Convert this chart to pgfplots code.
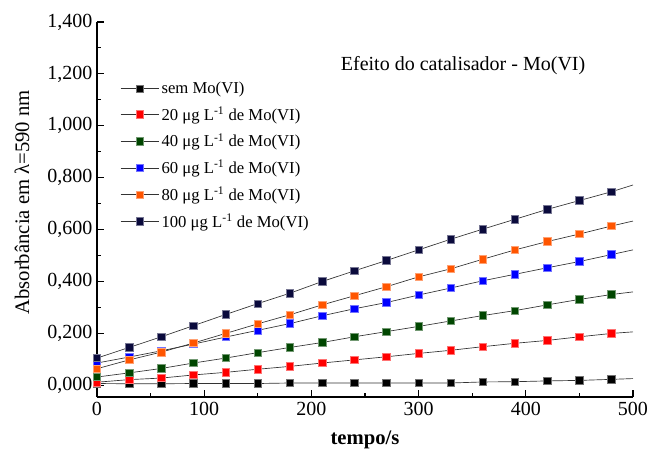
\documentclass[border=0pt]{standalone}
\usepackage{fontspec}
\setmainfont{Liberation Serif}
\usepackage{pgfplots}
\pgfplotsset{compat=1.18}
\usepackage{pgfplotstable}
\definecolor{cnavy}{RGB}{10,10,60}
\definecolor{corange}{RGB}{255,85,0}
\definecolor{cblue}{RGB}{0,0,255}
\definecolor{cgreen}{RGB}{0,70,0}
\definecolor{cred}{RGB}{255,0,0}
\definecolor{cblack}{RGB}{0,0,0}
\pgfplotstableread{
t   s0    s20   s40   s60   s80   s100
0   0.007 0.012 0.032 0.086 0.064 0.105
30  0.006 0.022 0.048 0.109 0.098 0.146
60  0.006 0.028 0.065 0.133 0.128 0.187
90  0.007 0.040 0.086 0.159 0.163 0.230
120 0.007 0.050 0.105 0.186 0.200 0.273
150 0.007 0.062 0.126 0.212 0.237 0.315
180 0.009 0.073 0.146 0.238 0.272 0.355
210 0.009 0.086 0.165 0.268 0.310 0.400
240 0.009 0.098 0.187 0.295 0.345 0.441
270 0.009 0.110 0.207 0.319 0.380 0.481
300 0.009 0.123 0.227 0.348 0.418 0.522
330 0.009 0.135 0.248 0.375 0.449 0.563
360 0.013 0.149 0.269 0.403 0.486 0.602
390 0.014 0.162 0.288 0.428 0.522 0.640
420 0.017 0.173 0.310 0.453 0.554 0.678
450 0.019 0.187 0.331 0.477 0.583 0.712
480 0.023 0.200 0.350 0.504 0.614 0.746
}\data
\pgfplotstableread{
t   s0    s20   s40   s60   s80   s100
480 0.023 0.200 0.350 0.504 0.614 0.746
500 0.026 0.206 0.360 0.522 0.633 0.772
}\ext
\pgfplotsset{
  ser/.style={black!80, line width=0.5pt, mark=square*, mark size=2.8pt,
    mark options={solid, fill=#1, draw=#1!55!white, line width=0.5pt}},
  extl/.style={black!80, line width=0.5pt, no marks, forget plot}
}
\begin{document}
\begin{tikzpicture}
\useasboundingbox (-72.75pt,-43.5pt) rectangle (414pt,297.75pt);
\begin{axis}[
  scale only axis, width=402pt, height=281.25pt,
  xmin=0, xmax=500, ymin=-0.045, ymax=1.4,
  axis x line*=bottom, axis y line*=left,
  axis line style={-, line width=0.8pt},
  tick style={line width=0.8pt, black},
  tick align=inside, major tick length=5pt, minor tick length=3pt,
  xtick={0,100,200,300,400,500}, minor x tick num=1,
  ytick={0,0.2,0.4,0.6,0.8,1.0,1.2,1.4}, minor y tick num=1,
  /pgf/number format/assume math mode=true,
  ticklabel style={font=\fontsize{15}{17}\selectfont},
  yticklabel style={/pgf/number format/.cd, fixed, fixed zerofill, precision=3, use comma},
  xticklabel style={/pgf/number format/.cd, fixed, precision=0},
  scaled y ticks=false,
  xlabel={\textbf{tempo/s}},
  ylabel={Absorbância em λ=590 nm},
  label style={font=\fontsize{15.5}{18}\selectfont},
  xlabel style={at={(axis description cs:0.5,-0.115)}, anchor=center},
  ylabel style={at={(axis description cs:-0.14,0.519)}, anchor=center},
  legend style={draw=none, fill=none, at={(0.043,0.848)}, anchor=north west,
    font=\fontsize{12.5}{14}\selectfont, row sep=4.4pt, inner sep=0pt},
  legend cell align=left,
  legend image code/.code={\draw[mark repeat=2,mark phase=2,#1] plot coordinates {(0cm,0cm) (0.5cm,0cm) (1cm,0cm)};},
  clip=false,
]
\addplot[ser=cblack] table[x=t,y=s0]{\data};
\addlegendentry{sem Mo(VI)}
\addplot[ser=cred] table[x=t,y=s20]{\data};
\addlegendentry{20 μg L\textsuperscript{-1} de Mo(VI)}
\addplot[ser=cgreen] table[x=t,y=s40]{\data};
\addlegendentry{40 μg L\textsuperscript{-1} de Mo(VI)}
\addplot[ser=cblue] table[x=t,y=s60]{\data};
\addlegendentry{60 μg L\textsuperscript{-1} de Mo(VI)}
\addplot[ser=corange] table[x=t,y=s80]{\data};
\addlegendentry{80 μg L\textsuperscript{-1} de Mo(VI)}
\addplot[ser=cnavy] table[x=t,y=s100]{\data};
\addlegendentry{100 μg L\textsuperscript{-1} de Mo(VI)}
\addplot[extl] table[x=t,y=s0]{\ext};
\addplot[extl] table[x=t,y=s20]{\ext};
\addplot[extl] table[x=t,y=s40]{\ext};
\addplot[extl] table[x=t,y=s60]{\ext};
\addplot[extl] table[x=t,y=s80]{\ext};
\addplot[extl] table[x=t,y=s100]{\ext};
\node[font=\fontsize{15}{18}\selectfont] at (rel axis cs:0.683,0.885) {Efeito do catalisador - Mo(VI)};
\end{axis}
\end{tikzpicture}
\end{document}
